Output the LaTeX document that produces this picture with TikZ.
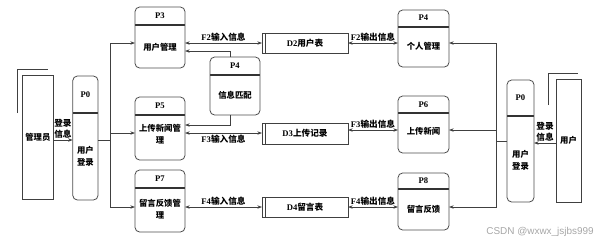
\documentclass[tikz,border=0pt]{standalone}
\usepackage{fontspec}
\setmainfont{Liberation Serif}
\newfontfamily\zh{Noto Sans CJK SC}
\newfontfamily\wmfont{Liberation Sans}
\usetikzlibrary{arrows.meta, positioning}
\newlength\pxu
\setlength\pxu{0.0265cm}

\begin{document}
\begin{tikzpicture}[
    x=0.0265cm, y=-0.0265cm,
    line/.style={draw=black!75, line width=0.6pt},
    arrow/.style={line, -{Stealth[length=3.5pt, width=2.6pt]}},
    darrow/.style={line, {Stealth[length=3.5pt, width=2.6pt]}-{Stealth[length=3.5pt, width=2.6pt]}},
    proc/.style={draw=black!70, line width=0.6pt, rounded corners=3.5pt, inner sep=0pt, outer sep=0pt,
        path picture={\draw[black!80, line width=0.8pt] ([yshift=-#1\pxu]path picture bounding box.north west) -- ([yshift=-#1\pxu]path picture bounding box.north east);}},
    proc/.default=18,
    entity/.style={draw=black!75, line width=0.6pt, inner sep=0pt, outer sep=0pt, font=\zh\bfseries\fontsize{6.3}{8}\selectfont},
    store/.style={draw=black!75, line width=0.6pt, inner sep=0pt, outer sep=0pt, font=\bfseries\fontsize{6.5}{8}\selectfont,
        path picture={\draw[black!75, line width=0.6pt] ([xshift=3.5\pxu]path picture bounding box.north west) -- ([xshift=3.5\pxu]path picture bounding box.south west);}},
    ttl/.style={inner sep=0pt, font=\bfseries\fontsize{6.5}{8}\selectfont},
    txt/.style={inner sep=0pt, align=center, font=\zh\bfseries\fontsize{6.3}{9}\selectfont},
    lbl/.style={inner sep=1pt, align=center, font=\bfseries\fontsize{6.5}{8}\selectfont},
    wm/.style={inner sep=0pt, text=black!35, font=\wmfont\fontsize{7.5}{9}\selectfont}
]
\useasboundingbox (0,0) rectangle (598,243);

% external entities
\node[entity, minimum width=30.3\pxu, minimum height=124\pxu] (adm) at (37.9,137) {管理员};
\node[entity, minimum width=25\pxu, minimum height=123\pxu] (user) at (568.5,140.5) {用户};
\draw[line] ([xshift=-5.7\pxu]adm.north west) ++(0,38) -- ++(0,-44) -- ++(31,0);
\draw[line] (user.north west) ++(-8,26) -- ++(0,-32) -- ++(30,0);

% login processes
\node[proc=37, minimum width=25.3\pxu, minimum height=124\pxu] (p0l) at (85.4,138) {};
\node[ttl] (p0lt) at (85.4,95) {P0};
\node[txt] (p0lb) at (85.4,156) {用户\\登录};
\node[proc=36, minimum width=27\pxu, minimum height=122\pxu] (p0r) at (520.5,141) {};
\node[ttl] (p0rt) at (520.5,98) {P0};
\node[txt] (p0rb) at (520.5,160) {用户\\登录};

% processes
\node[proc, minimum width=50\pxu, minimum height=61\pxu] (p3) at (160,37.5) {};
\node[ttl] (p3t) at (160,16) {P3};
\node[txt] (p3b) at (160,47) {用户管理};
\node[proc=17, minimum width=51\pxu, minimum height=57\pxu] (p4) at (423.5,38.5) {};
\node[ttl] (p4t) at (423.5,18) {P4};
\node[txt] (p4b) at (423.5,46) {个人管理};
\node[proc, minimum width=50\pxu, minimum height=58\pxu] (p4m) at (235,86) {};
\node[ttl] (p4mt) at (235,66) {P4};
\node[txt] (p4mb) at (235,95) {信息匹配};
\node[proc, minimum width=50\pxu, minimum height=63\pxu] (p5) at (160,128.5) {};
\node[ttl] (p5t) at (160,106) {P5};
\node[txt] (p5b) at (160,134) {上传新闻管\\理};
\node[proc=17, minimum width=51\pxu, minimum height=57\pxu] (p6) at (423.5,124.5) {};
\node[ttl] (p6t) at (423.5,104.5) {P6};
\node[txt] (p6b) at (423.5,131) {上传新闻};
\node[proc, minimum width=50\pxu, minimum height=62\pxu] (p7) at (160,201) {};
\node[ttl] (p7t) at (160,179) {P7};
\node[txt] (p7b) at (160,209) {留言反馈管\\理};
\node[proc=16, minimum width=51\pxu, minimum height=57\pxu] (p8) at (423.5,201.5) {};
\node[ttl] (p8t) at (423.5,181) {P8};
\node[txt] (p8b) at (423.5,209) {留言反馈};

% data stores
\node[store, minimum width=86\pxu, minimum height=20\pxu] (d2) at (305,43) {D2{\zh 用户表}};
\node[store, minimum width=86\pxu, minimum height=21\pxu] (d3) at (305,133.5) {D3{\zh 上传记录}};
\node[store, minimum width=86\pxu, minimum height=20\pxu] (d4) at (305,207) {D4{\zh 留言表}};

% rows
\coordinate (r1) at (0,43);
\coordinate (r2a) at (0,133);
\coordinate (r2b) at (0,130);
\coordinate (r3) at (0,207);
\coordinate (r4) at (0,51);
\coordinate (r5) at (0,125);
\coordinate (lgl) at (0,140);
\coordinate (lgr) at (0,143);
\coordinate (busl) at (110,140);
\coordinate (busr) at (496,141);

% left side
\draw[arrow] (adm.east |- lgl) -- node[lbl, above]{\zh 登录\\\zh 信息} (p0l.west |- lgl);
\draw[line] (p0l.east |- busl) -- (busl);
\draw[arrow] (busl) |- (p3.west |- r1);
\draw[arrow] (busl) |- (p5.west |- r2a);
\draw[arrow] (busl) |- (p7.west |- r3);

% right side
\draw[arrow] (user.west |- lgr) -- node[lbl, above]{\zh 登录\\\zh 信息} (p0r.east |- lgr);
\draw[line] (p0r.west |- busr) -- (busr);
\draw[arrow] (busr) |- (p4.east |- r1);
\draw[arrow] (busr) |- (p6.east |- r2b);
\draw[arrow] (busr) |- (p8.east |- r3);

% data flows
\draw[darrow] (p3.east |- r1) -- node[lbl, above]{F2{\zh 输入信息}} (d2.west);
\draw[darrow] (d2.east) -- node[lbl, above]{F2{\zh 输出信息}} (p4.west |- r1);
\draw[darrow] (p5.east |- r2a) -- node[lbl, below]{F3{\zh 输入信息}} (d3.west |- r2a);
\draw[darrow] (d3.east |- r2b) -- node[lbl, above]{F3{\zh 输出信息}} (p6.west |- r2b);
\draw[darrow] (p7.east |- r3) -- node[lbl, above]{F4{\zh 输入信息}} (d4.west);
\draw[darrow] (d4.east) -- node[lbl, above]{F4{\zh 输出信息}} (p8.west |- r3);
\draw[arrow] ([xshift=-5\pxu]p4m.north) |- (p3.east |- r4);
\draw[arrow] ([xshift=-5\pxu]p4m.south) |- (p5.east |- r5);

\node[wm, anchor=east] (wmk) at (594,232) {CSDN @wxwx\_jsjbs999};
\end{tikzpicture}
\end{document}
